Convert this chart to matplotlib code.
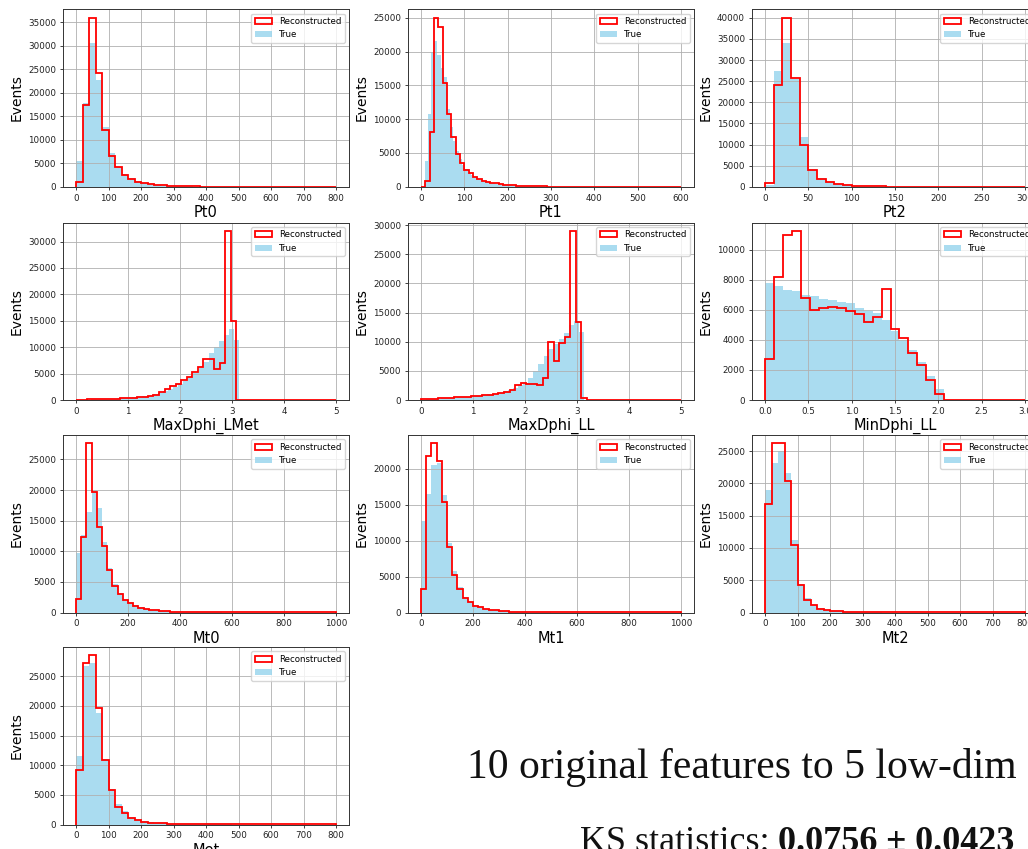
import numpy as np
import matplotlib
matplotlib.use("Agg")
import matplotlib.pyplot as plt
from matplotlib.text import Annotation

# ---------------- data ----------------
features = ["Pt0", "Pt1", "Pt2", "MaxDphi_LMet", "MaxDphi_LL", "MinDphi_LL",
            "Mt0", "Mt1", "Mt2", "Met"]

# reconstructed histograms: (lo, hi) range and bin counts
reco_range = {
    "Pt0": (0, 800), "Pt1": (0, 600), "Pt2": (0, 300),
    "MaxDphi_LMet": (0, 5), "MaxDphi_LL": (0, 5), "MinDphi_LL": (0, 3),
    "Mt0": (0, 1000), "Mt1": (0, 1000), "Mt2": (0, 800), "Met": (0, 800),
}
# true histograms: own range where the binning differs, else None (= reco bins)
true_range = {
    "Pt0": None, "Pt1": (10, 360), "Pt2": None,
    "MaxDphi_LMet": (0, np.pi), "MaxDphi_LL": (0, np.pi), "MinDphi_LL": None,
    "Mt0": None, "Mt1": None, "Mt2": None, "Met": None,
}

reco_pt0 = [1000, 17500, 36000, 24200, 12000, 6600, 4200, 2600, 1700, 1100,
            800, 550, 400, 300, 220, 160, 120, 90, 70, 55,
            45, 35, 28, 22, 18, 15, 12, 10, 8, 6,
            5, 4, 3, 2, 2, 1, 1, 1, 1, 1]
true_pt0 = [5400, 17800, 30700, 22700, 12700, 7200, 4300, 2700, 1800, 1200,
            800, 550, 380, 270, 200, 150, 110, 80, 60, 45,
            35, 25, 18, 12, 8, 5]

reco_pt1 = [0, 800, 8100, 25000, 23700, 15300, 10800, 7400, 4900, 3500,
            2500, 2000, 1500, 1100, 900, 750, 600, 500, 400, 320,
            260, 210, 170, 140, 110, 90, 75, 60, 50, 40,
            33, 27, 22, 18, 15, 12, 10, 8, 6, 5,
            4, 3, 3, 2, 2, 2, 1, 1, 1, 1,
            1, 1, 1, 1, 1, 1, 1, 1, 1, 1]
true_pt1 = [3800, 10700, 20000, 21600, 19500, 17500, 16200, 11500, 8800, 6800,
            5300, 4100, 3200, 2600, 2100, 1700, 1400, 1150, 950, 800,
            680, 580, 500, 430, 370, 320, 280, 240, 210, 180,
            160, 140, 120, 105, 90, 80, 70, 60, 52, 45,
            40, 35, 30, 26, 22, 19, 16, 14, 12, 10]

reco_pt2 = [800, 24200, 40000, 25800, 10000, 4000, 1900, 1200, 700, 400,
            250, 170, 120, 90, 70, 50, 40, 30, 20, 15,
            10, 8, 6, 5, 4, 3, 2, 2, 1, 1]
true_pt2 = [500, 27400, 34000, 25500, 11800, 4200, 2000, 1200, 700, 420,
            270, 180, 120, 85, 60, 45, 32, 22, 15, 10]

reco_maxdphi_lmet = [0, 0, 100, 120, 150, 180, 220, 250, 300, 380,
                     420, 550, 650, 700, 900, 1500, 2000, 2600, 3100, 3700,
                     4400, 5300, 6300, 7700, 7700, 5800, 7000, 32000, 15000, 0,
                     0, 0, 0, 0, 0, 0, 0, 0, 0, 0,
                     0, 0, 0, 0, 0, 0, 0]
true_maxdphi_lmet = [50, 70, 90, 110, 140, 170, 200, 240, 290, 340,
                     400, 480, 580, 700, 850, 1050, 1300, 1650, 2050, 2500,
                     3000, 3600, 4300, 5100, 6000, 7200, 8900, 10000, 11200, 12300,
                     13400, 11300]

reco_maxdphi_ll = [100, 200, 250, 300, 350, 400, 450, 550, 600, 650,
                   700, 800, 900, 1000, 1200, 1400, 1800, 2600, 2900, 2700,
                   2700, 2600, 3800, 9900, 6700, 9800, 10800, 29000, 13400, 400,
                   0, 0, 0, 0, 0, 0, 0, 0, 0, 0,
                   0, 0, 0, 0, 0, 0, 0]
true_maxdphi_ll = [80, 130, 180, 230, 280, 330, 380, 440, 500, 570,
                   650, 740, 840, 960, 1100, 1270, 1480, 1750, 2100, 2500,
                   3000, 3700, 4900, 6200, 7500, 8700, 9600, 10500, 11500, 12900,
                   13500, 11700]

reco_mindphi_ll = [2700, 8200, 11000, 11250, 6800, 6000, 6100, 6200, 6100, 5900,
                   5700, 5200, 5500, 7400, 4700, 4100, 3100, 2300, 1300, 400,
                   0, 0, 0, 0, 0, 0, 0, 0, 0]
true_mindphi_ll = [7800, 7600, 7300, 7250, 7000, 6950, 6700, 6650, 6550, 6450,
                   6100, 5900, 5800, 5300, 4600, 4000, 3300, 2500, 1600, 700]

reco_mt0 = [2200, 12400, 27600, 19600, 14000, 10800, 7000, 4400, 3100, 2100,
            1600, 1100, 800, 600, 480, 370, 280, 220, 160, 120,
            90, 70, 55, 42, 32, 25, 20, 15, 12, 9,
            7, 5, 4, 3, 2, 2, 1, 1, 1, 1,
            1, 1, 1, 1, 1, 1, 1, 1, 1, 1]
true_mt0 = [9700, 12600, 16400, 20000, 17000, 11500, 7300, 4600, 3200, 2200,
            1600, 1150, 820, 600, 450, 340, 260, 200, 150, 110,
            80, 60, 45, 35, 25, 18, 12, 8]

reco_mt1 = [3300, 21800, 23500, 21000, 15400, 9100, 5200, 3200, 2000, 1400,
            950, 700, 500, 380, 280, 210, 160, 120, 90, 70,
            55, 42, 32, 25, 20, 15, 12, 10, 8, 6,
            5, 4, 3, 2, 2, 1, 1, 1, 1, 1,
            1, 1, 1, 1, 1, 1, 1, 1, 1, 1]
true_mt1 = [12700, 16500, 20500, 20800, 16300, 9700, 5800, 3500, 2200, 1500,
            1000, 720, 520, 380, 280, 200, 150, 110, 80, 60,
            45, 32, 22, 15, 10]

reco_mt2 = [16800, 26200, 26200, 20400, 10400, 4200, 2000, 1100, 600, 350,
            250, 160, 110, 80, 60, 45, 35, 25, 1, 1,
            1, 1, 1, 1, 1, 1, 1, 1, 1, 1,
            1, 1, 1, 1, 1, 1, 1, 1, 1, 1]
true_mt2 = [19000, 23200, 25000, 21600, 11300, 4400, 2200, 1200, 650, 380,
            260, 170, 110, 75, 50, 35, 25, 15]

reco_met = [9200, 27200, 28500, 19600, 10800, 5800, 3000, 1900, 1100, 700,
            480, 330, 240, 170, 120, 90, 65, 48, 35, 25,
            40, 18, 12, 8, 5, 3, 2, 1, 1, 1,
            1, 1, 1, 1, 1, 1, 1, 1, 1, 1]
true_met = [11500, 26700, 27200, 18800, 11000, 6000, 3400, 2200, 1300, 800,
            520, 360, 250, 180, 130, 95, 70, 50, 35, 25,
            18, 12, 8, 5]

reco_counts = {
    "Pt0": reco_pt0, "Pt1": reco_pt1, "Pt2": reco_pt2,
    "MaxDphi_LMet": reco_maxdphi_lmet, "MaxDphi_LL": reco_maxdphi_ll,
    "MinDphi_LL": reco_mindphi_ll, "Mt0": reco_mt0, "Mt1": reco_mt1,
    "Mt2": reco_mt2, "Met": reco_met,
}
true_counts = {
    "Pt0": true_pt0, "Pt1": true_pt1, "Pt2": true_pt2,
    "MaxDphi_LMet": true_maxdphi_lmet, "MaxDphi_LL": true_maxdphi_ll,
    "MinDphi_LL": true_mindphi_ll, "Mt0": true_mt0, "Mt1": true_mt1,
    "Mt2": true_mt2, "Met": true_met,
}

headline = "10 original features to 5 low-dim"
ks_label = "KS statistics: "
ks_value = "0.0756 \u00b1 0.0423"

# ---------------- layout ----------------
W, H = 1028, 849
fig = plt.figure(figsize=(W / 100, H / 100), dpi=100)
col_left = [63, 408, 752]
row_top = [9.3, 222.5, 435, 647]
ax_w, ax_h = 286, 177.5

for i, name in enumerate(features):
    r, c = divmod(i, 3)
    ax = fig.add_axes([col_left[c] / W, 1 - (row_top[r] + ax_h) / H,
                       ax_w / W, ax_h / H])

    rc = np.asarray(reco_counts[name], dtype=float)
    lo, hi = reco_range[name]
    r_edges = np.linspace(lo, hi, len(rc) + 1)

    tc = np.asarray(true_counts[name], dtype=float)
    if true_range[name] is None:
        t_edges = r_edges[:len(tc) + 1]
    else:
        tlo, thi = true_range[name]
        t_edges = np.linspace(tlo, thi, len(tc) + 1)

    ax.hist(0.5 * (t_edges[:-1] + t_edges[1:]), bins=t_edges, weights=tc,
            color="skyblue", alpha=0.7, label="True")
    ax.hist(0.5 * (r_edges[:-1] + r_edges[1:]), bins=r_edges, weights=rc,
            histtype="step", color="red", linewidth=1.3, label="Reconstructed")

    ax.grid(True, color="#b0b0b0", linewidth=0.6)
    ax.tick_params(labelsize=6.3, length=2.5, width=0.6, pad=2.5,
                   colors="#222222")
    for s in ax.spines.values():
        s.set_linewidth(0.7)
        s.set_color("#333333")
    ax.set_xlabel(name, fontsize=10.5, labelpad=1.5)
    ax.set_ylabel("Events", fontsize=10, labelpad=3)
    h, l = ax.get_legend_handles_labels()
    ax.legend(h[::-1], l[::-1], loc="upper right", fontsize=6.2)

# ---------------- slide text ----------------
fig.text(467 / W, 1 - 778 / H, headline, fontsize=30,
         family="Liberation Serif", ha="left", va="baseline", color="#111111")
t1 = fig.text(580 / W, 1 - 851 / H, ks_label, fontsize=26,
              family="Liberation Serif", ha="left", va="baseline",
              color="#111111")
fig.add_artist(Annotation(ks_value, xy=(1, 0), xycoords=t1,
                          ha="left", va="bottom", fontsize=26,
                          family="Liberation Serif", fontweight="bold",
                          color="#111111"))

fig.savefig("out.png", dpi=100)
